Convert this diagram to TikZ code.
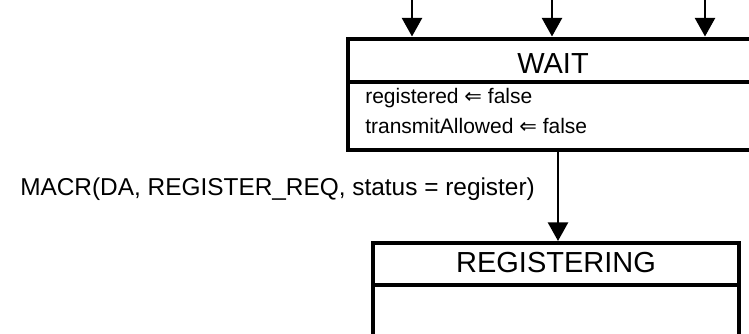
\documentclass[tikz,border=0pt]{standalone}
\usepackage{fontspec}
\setmainfont{Liberation Sans}
\newfontfamily\arrowfont{DejaVu Sans}
\usetikzlibrary{arrows.meta}
\begin{document}
\begin{tikzpicture}[x=0.75pt,y=-0.75pt,
  statebox/.style={draw, rectangle, line width=3pt, inner sep=0pt},
  divider/.style={line width=3pt},
  flow/.style={line width=2pt, -{Triangle[width=15pt,length=14pt]}},
  statename/.style={font=\fontsize{21.75pt}{24pt}\selectfont, inner sep=0pt, anchor=base},
  action/.style={font=\fontsize{15.75pt}{18pt}\selectfont, inner sep=0pt, anchor=base west},
  guardtext/.style={font=\fontsize{18.3pt}{21pt}\selectfont, inner sep=0pt, anchor=base west}]
\useasboundingbox[fill=white] (0,0) rectangle (749,334);

% state boxes (the right edge of WAIT and the bottom of REGISTERING run off the page)
\node[statebox, minimum width=307.5pt, minimum height=83.6pt] (wait) at (553,94.25) {};
\node[statebox, minimum width=274.5pt, minimum height=102.75pt] (reg) at (556,311.5) {};

% compartment lines
\coordinate (wdiv) at (0,82);
\coordinate (rdiv) at (0,285);
\draw[divider] (wait.west |- wdiv) -- (wait.east |- wdiv);
\draw[divider] (reg.west |- rdiv) -- (reg.east |- rdiv);

% names and entry actions
\node[statename] (waitname) at (553,74) {WAIT};
\node[action] (act1) at (365,104) {registered {\arrowfont ⇐} false};
\node[action] (act2) at (365,134) {transmitAllowed {\arrowfont ⇐} false};
\node[statename] (regname) at (556,273) {REGISTERING};

% incoming transitions from above
\coordinate (in1) at (412,-6);
\coordinate (in2) at (552,-6);
\coordinate (in3) at (705,-6);
\draw[flow] (in1) -- (in1 |- wait.north);
\draw[flow] (in2) -- (in2 |- wait.north);
\draw[flow] (in3) -- (in3 |- wait.north);

% WAIT -> REGISTERING
\coordinate (tx) at (558,0);
\draw[flow] (tx |- wait.south) -- (tx |- reg.north);
\node[guardtext] (guard) at (20,196) {MACR(DA, REGISTER\_REQ, status = register)};
\end{tikzpicture}
\end{document}
